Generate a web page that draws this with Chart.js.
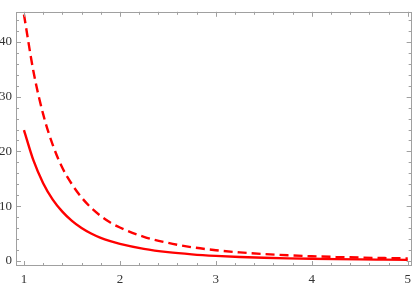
<!DOCTYPE html>
<html>
<head>
<meta charset="utf-8">
<script src="https://cdn.jsdelivr.net/npm/chart.js@4"></script>
<style>
  html, body { margin: 0; padding: 0; background: #fff; }
  #plot { display: block; }
</style>
</head>
<body>
<canvas id="plot" width="417" height="284"></canvas>
<script>
// values
const xValues = [1, 1.1, 1.2, 1.3, 1.4, 1.5, 1.6, 1.7, 1.8, 1.9, 2, 2.25, 2.5, 2.75, 3, 3.25, 3.5, 3.75, 4, 4.25, 4.5, 4.75, 5];
const solidValues = [23.9, 18.3, 14.2, 11.2, 9.0, 7.3, 6.0, 5.0, 4.2, 3.6, 3.1, 2.2, 1.6, 1.2, 0.92, 0.72, 0.57, 0.46, 0.38, 0.32, 0.27, 0.23, 0.19];
const dashedValues = [45, 34.5, 26.8, 21.2, 17.0, 14.0, 11.6, 9.7, 8.2, 7.0, 6.1, 4.4, 3.3, 2.5, 1.95, 1.55, 1.25, 1.02, 0.85, 0.72, 0.61, 0.52, 0.45];
const xTickLabels = [1, 2, 3, 4, 5];
const yTickLabels = [0, 10, 20, 30, 40];

const frameColor = '#a0a0a0';
const labelFont = { family: '"Liberation Serif", "DejaVu Serif", serif', size: 13 };

const toPoints = (vals) => vals.map((v, i) => ({ x: xValues[i], y: v }));

// Mathematica-style frame with inward ticks on all four sides
const frameTicks = {
  id: 'frameTicks',
  afterDraw(chart) {
    const { ctx, chartArea: a, scales: { x, y } } = chart;
    ctx.save();
    ctx.strokeStyle = frameColor;
    ctx.lineWidth = 1;
    ctx.strokeRect(Math.round(a.left) + 0.5, Math.round(a.top) + 0.5,
      Math.round(a.right - a.left) - 1, Math.round(a.bottom - a.top) - 1);
    ctx.beginPath();
    for (let i = 5; i <= 25; i++) {
      const px = Math.round(x.getPixelForValue(i / 5)) + 0.5;
      const len = i % 5 === 0 ? 5 : 3;
      ctx.moveTo(px, a.bottom); ctx.lineTo(px, a.bottom - len);
      ctx.moveTo(px, a.top); ctx.lineTo(px, a.top + len);
    }
    for (let v = 0; v <= 44; v += 2) {
      const py = Math.round(y.getPixelForValue(v)) + 0.5;
      const len = v % 10 === 0 ? 5 : 3;
      ctx.moveTo(a.left, py); ctx.lineTo(a.left + len, py);
      ctx.moveTo(a.right, py); ctx.lineTo(a.right - len, py);
    }
    ctx.stroke();
    ctx.restore();
  }
};

new Chart(document.getElementById('plot'), {
  type: 'line',
  data: {
    datasets: [
      {
        data: toPoints(solidValues),
        borderColor: '#ff0000',
        borderWidth: 2.4,
        pointRadius: 0,
        cubicInterpolationMode: 'monotone'
      },
      {
        data: toPoints(dashedValues),
        borderColor: '#ff0000',
        borderWidth: 2.4,
        borderDash: [9, 5],
        pointRadius: 0,
        cubicInterpolationMode: 'monotone'
      }
    ]
  },
  options: {
    responsive: false,
    animation: false,
    layout: { padding: { top: 2, right: 3, left: 0, bottom: 0 } },
    plugins: { legend: { display: false }, tooltip: { enabled: false } },
    scales: {
      x: {
        type: 'linear',
        min: 0.917,
        max: 5.041,
        grid: { display: false, drawTicks: false },
        border: { display: false },
        afterBuildTicks: (s) => { s.ticks = xTickLabels.map(v => ({ value: v })); },
        afterFit: (s) => { s.height = 18; },
        ticks: { font: labelFont, color: '#333', padding: 6, maxRotation: 0 }
      },
      y: {
        type: 'linear',
        min: -0.932,
        max: 45.5,
        grid: { display: false, drawTicks: false },
        border: { display: false },
        afterBuildTicks: (s) => { s.ticks = yTickLabels.map(v => ({ value: v })); },
        afterFit: (s) => { s.width = 16; },
        ticks: { font: labelFont, color: '#333', padding: 4 }
      }
    }
  },
  plugins: [frameTicks]
});
</script>
</body>
</html>
